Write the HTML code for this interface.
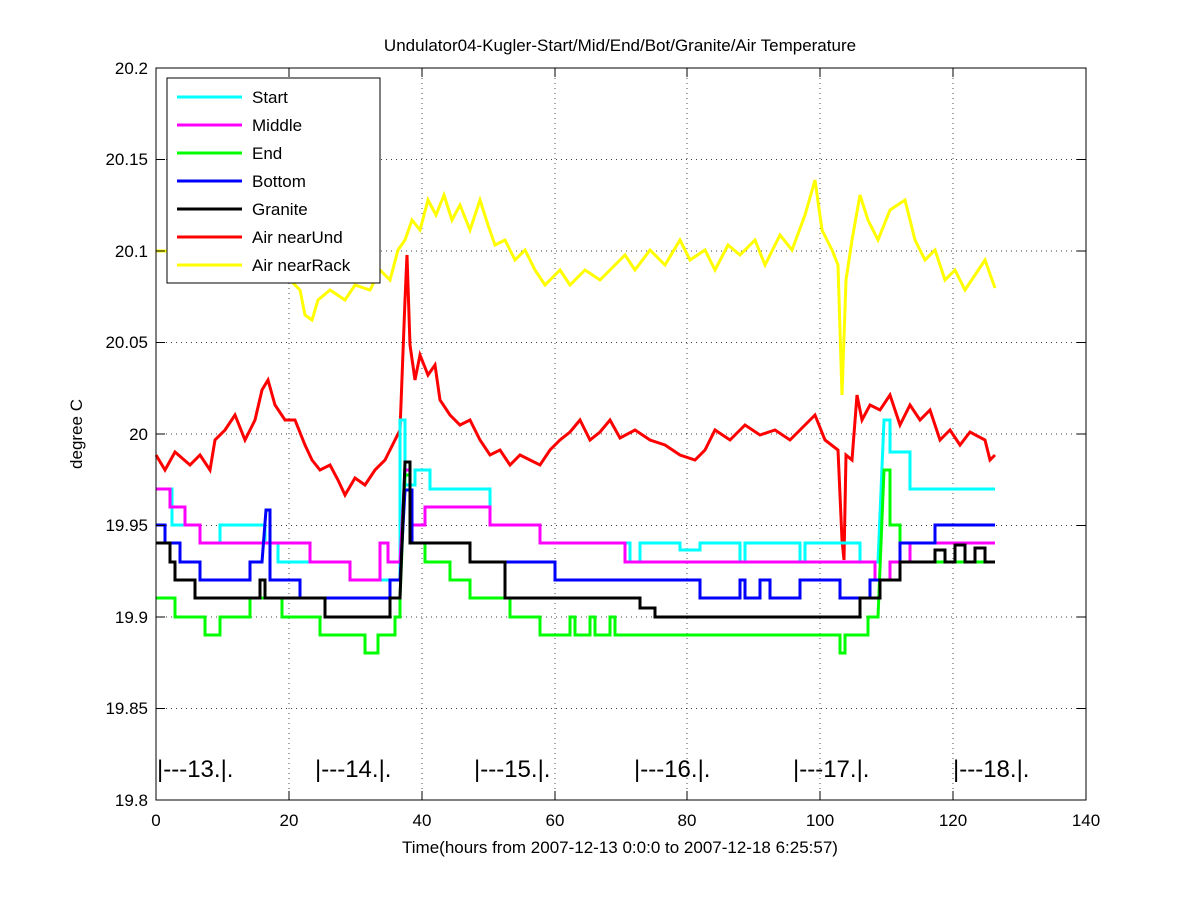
<!DOCTYPE html>
<html><head><meta charset="utf-8"><style>
html,body{margin:0;padding:0;background:#fff;}
svg{display:block;font-family:"Liberation Sans",sans-serif;}
</style></head><body>
<svg width="1200" height="900" viewBox="0 0 1200 900" xmlns="http://www.w3.org/2000/svg">
<rect x="0" y="0" width="1200" height="900" fill="#fff"/>
<g stroke="#000" stroke-width="0.7" stroke-dasharray="1,4" fill="none">
<line x1="289" y1="68" x2="289" y2="800"/><line x1="422" y1="68" x2="422" y2="800"/>
<line x1="555" y1="68" x2="555" y2="800"/><line x1="687" y1="68" x2="687" y2="800"/>
<line x1="820" y1="68" x2="820" y2="800"/><line x1="953" y1="68" x2="953" y2="800"/>
<line x1="156" y1="159.5" x2="1086" y2="159.5"/><line x1="156" y1="251" x2="1086" y2="251"/>
<line x1="156" y1="342.5" x2="1086" y2="342.5"/><line x1="156" y1="434" x2="1086" y2="434"/>
<line x1="156" y1="525.5" x2="1086" y2="525.5"/><line x1="156" y1="617" x2="1086" y2="617"/>
<line x1="156" y1="708.5" x2="1086" y2="708.5"/>
</g>
<g fill="none" stroke-width="3">
<polyline stroke="#ffff00" points="156,251 290,251 290,280 300,290 305,315 312,320 318,300 330,290 345,300 355,285 370,290 380,270 390,280 398,250 405,240 412,220 420,230 428,200 436,215 444,195 452,220 460,205 470,230 480,200 488,225 495,245 505,240 515,260 525,250 535,270 545,285 560,270 570,285 585,270 600,280 615,265 625,255 635,270 650,250 665,265 680,240 690,260 705,250 715,270 728,245 740,255 755,240 765,265 780,235 792,250 805,215 815,180 822,230 832,250 838,265 842,395 846,280 852,240 860,195 868,220 878,240 890,210 905,200 915,240 925,260 935,250 945,280 955,270 965,290 975,275 985,260 995,288"/>
<polyline stroke="#ff0000" points="156,455 165,470 175,452 190,465 200,455 210,470 215,440 225,430 235,415 245,440 255,420 262,390 268,380 275,405 285,420 295,420 305,445 312,460 320,470 330,465 338,480 345,495 355,478 365,485 375,470 385,460 395,440 400,430 405,300 407,255 410,345 415,380 420,355 428,375 435,365 440,400 450,415 460,425 470,420 480,440 490,455 500,450 510,465 520,455 530,460 540,465 550,450 560,440 570,432 580,420 590,440 600,432 610,420 620,438 635,430 650,440 665,445 680,455 695,460 705,450 715,430 730,440 745,425 760,435 775,430 790,440 805,425 815,415 825,440 838,450 842,540 844,560 846,455 852,460 857,395 862,420 870,405 880,410 890,395 900,425 910,405 920,420 930,410 940,440 950,430 960,445 970,432 985,440 990,460 995,455"/>
<path stroke="#00ffff" d="M156,489 H172 V525 H200 V543 H220 V525 H265 V543 H278 V562 H350 V580 H400 V420 H405 V485 H415 V470 H430 V489 H490 V525 H540 V543 H630 V562 H640 V543 H680 V550 H700 V543 H740 V562 H745 V543 H800 V562 H805 V543 H860 V562 H878 L884,420 H890 V452 H910 V489 H995"/>
<path stroke="#ff00ff" d="M156,489 H170 V507 H185 V525 H200 V543 H310 V562 H350 V580 H380 V543 H388 V562 H400 L405,470 H410 V525 H425 V507 H490 V525 H540 V543 H625 V562 H875 V580 H890 V562 H910 V543 H995"/>
<path stroke="#00ff00" d="M156,598 H175 V617 H205 V635 H220 V617 H250 V598 H282 V617 H320 V635 H365 V653 H378 V635 H395 V617 H400 V598 L405,475 H410 V543 H425 V562 H450 V580 H470 V598 H510 V617 H540 V635 H570 V617 H575 V635 H590 V617 H595 V635 H610 V617 H615 V635 H840 V653 H845 V635 H868 V617 H878 L884,470 H890 V525 H900 V562 H995"/>
<path stroke="#0000ff" d="M156,525 H165 V543 H180 V562 H200 V580 H250 V562 H262 L266,510 H270 V580 H300 V598 H390 V580 H400 L405,490 H412 V543 H470 V562 H555 V580 H700 V598 H740 V580 H745 V598 H760 V580 H770 V598 H800 V580 H840 V598 H870 V580 H900 V543 H935 V525 H995"/>
<path stroke="#000000" d="M156,543 H170 V562 H175 V580 H195 V598 H260 V580 H265 V598 H325 V617 H390 V598 H400 L405,462 H410 V543 H470 V562 H505 V598 H640 V608 H655 V617 H860 V598 H880 V580 H900 V562 H935 V550 H945 V562 H955 V545 H965 V562 H975 V548 H985 V562 H995"/>
</g>
<rect x="156" y="68" width="930" height="732" fill="none" stroke="#000" stroke-width="1"/>
<g stroke="#000" stroke-width="1">
<line x1="289" y1="800" x2="289" y2="791"/><line x1="422" y1="800" x2="422" y2="791"/><line x1="555" y1="800" x2="555" y2="791"/><line x1="687" y1="800" x2="687" y2="791"/><line x1="820" y1="800" x2="820" y2="791"/><line x1="953" y1="800" x2="953" y2="791"/>
<line x1="289" y1="68" x2="289" y2="77"/><line x1="422" y1="68" x2="422" y2="77"/><line x1="555" y1="68" x2="555" y2="77"/><line x1="687" y1="68" x2="687" y2="77"/><line x1="820" y1="68" x2="820" y2="77"/><line x1="953" y1="68" x2="953" y2="77"/>
<line x1="156" y1="159.5" x2="165" y2="159.5"/><line x1="156" y1="251" x2="165" y2="251"/><line x1="156" y1="342.5" x2="165" y2="342.5"/><line x1="156" y1="434" x2="165" y2="434"/><line x1="156" y1="525.5" x2="165" y2="525.5"/><line x1="156" y1="617" x2="165" y2="617"/><line x1="156" y1="708.5" x2="165" y2="708.5"/>
<line x1="1077" y1="159.5" x2="1086" y2="159.5"/><line x1="1077" y1="251" x2="1086" y2="251"/><line x1="1077" y1="342.5" x2="1086" y2="342.5"/><line x1="1077" y1="434" x2="1086" y2="434"/><line x1="1077" y1="525.5" x2="1086" y2="525.5"/><line x1="1077" y1="617" x2="1086" y2="617"/><line x1="1077" y1="708.5" x2="1086" y2="708.5"/>
</g>
<g font-size="17" fill="#000" text-anchor="end">
<text x="148" y="74">20.2</text><text x="148" y="165">20.15</text><text x="148" y="257">20.1</text><text x="148" y="348">20.05</text><text x="148" y="440">20</text><text x="148" y="531">19.95</text><text x="148" y="623">19.9</text><text x="148" y="714">19.85</text><text x="148" y="806">19.8</text>
</g>
<g font-size="17" fill="#000" text-anchor="middle">
<text x="156" y="826">0</text><text x="289" y="826">20</text><text x="422" y="826">40</text><text x="555" y="826">60</text><text x="687" y="826">80</text><text x="820" y="826">100</text><text x="953" y="826">120</text><text x="1086" y="826">140</text>
<text x="620" y="853">Time(hours from 2007-12-13 0:0:0 to 2007-12-18 6:25:57)</text>
<text x="620" y="51">Undulator04-Kugler-Start/Mid/End/Bot/Granite/Air Temperature</text>
<text transform="translate(82,434) rotate(-90)">degree C</text>
</g>
<g font-size="24" fill="#000">
<text x="157" y="777">|---13.|.</text><text x="315" y="777">|---14.|.</text><text x="474" y="777">|---15.|.</text><text x="634" y="777">|---16.|.</text><text x="793" y="777">|---17.|.</text><text x="953" y="777">|---18.|.</text>
</g>
<rect x="167" y="78" width="213" height="205" fill="#fff" stroke="#000" stroke-width="1"/>
<g stroke-width="3">
<line x1="177" y1="97" x2="242" y2="97" stroke="#00ffff"/>
<line x1="177" y1="125" x2="242" y2="125" stroke="#ff00ff"/>
<line x1="177" y1="153" x2="242" y2="153" stroke="#00ff00"/>
<line x1="177" y1="181" x2="242" y2="181" stroke="#0000ff"/>
<line x1="177" y1="209" x2="242" y2="209" stroke="#000"/>
<line x1="177" y1="237" x2="242" y2="237" stroke="#ff0000"/>
<line x1="177" y1="265" x2="242" y2="265" stroke="#ffff00"/>
</g>
<g font-size="17" fill="#000">
<text x="252" y="103">Start</text><text x="252" y="131">Middle</text><text x="252" y="159">End</text><text x="252" y="187">Bottom</text><text x="252" y="215">Granite</text><text x="252" y="243">Air nearUnd</text><text x="252" y="271">Air nearRack</text>
</g>
</svg>
</body></html>
